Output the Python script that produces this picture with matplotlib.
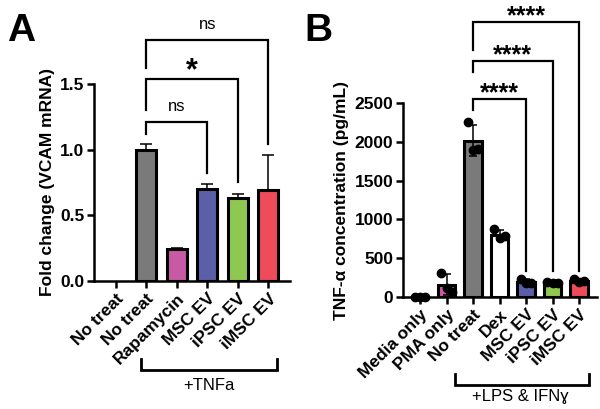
import numpy as np
import matplotlib.pyplot as plt
import matplotlib.transforms as mtransforms

plt.rcParams['font.family'] = ['Liberation Sans', 'DejaVu Sans']

# Panel A: VCAM mRNA fold change
a_labels = ['No treat', 'No treat', 'Rapamycin', 'MSC EV', 'iPSC EV', 'iMSC EV']
a_means = [np.nan, 1.0, 0.24, 0.70, 0.635, 0.69]
a_err = [0, 0.04, 0.012, 0.04, 0.03, 0.27]
a_colors = ['white', '#7a7a7a', '#c85aa5', '#5a5fa8', '#8fc850', '#ee4b5b']

# Panel B: TNF-a concentration
b_labels = ['Media only', 'PMA only', 'No treat', 'Dex', 'MSC EV', 'iPSC EV', 'iMSC EV']
b_means = [0, 160, 2015, 800, 195, 185, 205]
b_sd = [0, 140, 200, 60, 35, 8, 12]
b_points = [[0, 0, 0], [310, 110, 60], [2250, 1900, 1905],
            [870, 760, 790], [230, 180, 175], [190, 180, 185], [225, 195, 205]]
b_colors = ['white', '#c85aa5', '#7a7a7a', 'white', '#5a5fa8', '#8fc850', '#ee4b5b']


def style_axis(ax):
    for s in ['top', 'right']:
        ax.spines[s].set_visible(False)
    for s in ['left', 'bottom']:
        ax.spines[s].set_linewidth(1.8)
    ax.tick_params(width=1.8, length=5, labelsize=12.5, pad=2)
    for t in ax.get_yticklabels():
        t.set_fontweight('bold')


def bracket(ax, x1, x2, top, y1, y2, text, ty, fs=12, weight='normal'):
    ax.plot([x1, x1, x2, x2], [y1, top, top, y2], color='black', lw=1.6,
            clip_on=False, solid_joinstyle='miter')
    ax.text((x1 + x2) / 2, ty, text, ha='center', va='center', fontsize=fs,
            fontweight=weight, clip_on=False)


def group_bracket(ax, x1, x2, y, yleg, text, ty, tx):
    tr = mtransforms.blended_transform_factory(ax.transData, ax.transAxes)
    ax.plot([x1, x1, x2, x2], [yleg, y, y, yleg], color='black', lw=2.0,
            transform=tr, clip_on=False, solid_joinstyle='miter')
    ax.text(tx, ty, text, ha='center', va='center', fontsize=12, transform=tr)


fig = plt.figure(figsize=(6, 4.09), dpi=100)

# ---- Panel A ----
axA = fig.add_axes([0.157, 0.313, 0.326, 0.4817])
xa = np.arange(len(a_labels))
axA.bar(xa, a_means, width=0.66, color=a_colors, edgecolor='black', linewidth=2.2,
        zorder=2)
axA.errorbar(xa, a_means, yerr=[np.zeros(len(a_err)), a_err], fmt='none',
             ecolor='black', elinewidth=1.1, capsize=4, capthick=1.1, zorder=1)
axA.set_xlim(-0.7, 5.7)
axA.set_ylim(0, 1.5)
axA.set_yticks([0, 0.5, 1.0, 1.5])
axA.set_yticklabels(['0.0', '0.5', '1.0', '1.5'])
axA.set_xticks(xa)
axA.set_xticklabels(a_labels, rotation=45, ha='right', rotation_mode='anchor',
                    fontweight='bold', fontsize=11.5)
axA.set_ylabel('Fold change (VCAM mRNA)', fontweight='bold', fontsize=12.5,
               labelpad=4)
style_axis(axA)

bracket(axA, 1, 5, 1.834, 1.62, 1.04, 'ns', 1.95)
bracket(axA, 1, 4, 1.54, 1.305, 0.75, '*', 1.60, fs=22, weight='bold')
bracket(axA, 1, 3, 1.21, 1.12, 0.82, 'ns', 1.325)
group_bracket(axA, 0.82, 5.27, -0.452, -0.396, '+TNFa', -0.53, 3.05)
fig.text(0.012, 0.925, 'A', fontsize=28, fontweight='bold', va='center')

# ---- Panel B ----
axB = fig.add_axes([0.672, 0.274, 0.323, 0.474])
xb = np.arange(len(b_labels))
axB.bar(xb, b_means, width=0.66, color=b_colors, edgecolor='black', linewidth=2.2,
        zorder=2)
axB.errorbar(xb, b_means, yerr=b_sd, fmt='none', ecolor='black', elinewidth=1.1,
             capsize=3, capthick=1.1, zorder=3)
offsets = [-0.2, 0.0, 0.2]
for i, pts in enumerate(b_points):
    axB.scatter(xb[i] + np.array(offsets), pts, s=36, color='black', zorder=4,
                clip_on=False)
axB.set_xlim(-0.64, 6.68)
axB.set_ylim(0, 2500)
axB.set_yticks([0, 500, 1000, 1500, 2000, 2500])
axB.set_xticks(xb)
axB.set_xticklabels(b_labels, rotation=45, ha='right', rotation_mode='anchor',
                    fontweight='bold', fontsize=11.5)
axB.set_ylabel('TNF-α concentration (pg/mL)', fontweight='bold', fontsize=12.5,
               labelpad=4)
style_axis(axB)

# stars sit high in the glyph box, so place them a little lower
bracket(axB, 2, 6, 3544, 3183, 330, '****', 3620, fs=18, weight='bold')
bracket(axB, 2, 5, 3041, 2900, 330, '****', 3120, fs=18, weight='bold')
bracket(axB, 2, 4, 2552, 2410, 330, '****', 2625, fs=18, weight='bold')
group_bracket(axB, 1.32, 6.38, -0.454, -0.397, '+LPS & IFNɣ', -0.515, 3.8)
fig.text(0.508, 0.925, 'B', fontsize=28, fontweight='bold', va='center')

fig.savefig('out.png', dpi=100)
